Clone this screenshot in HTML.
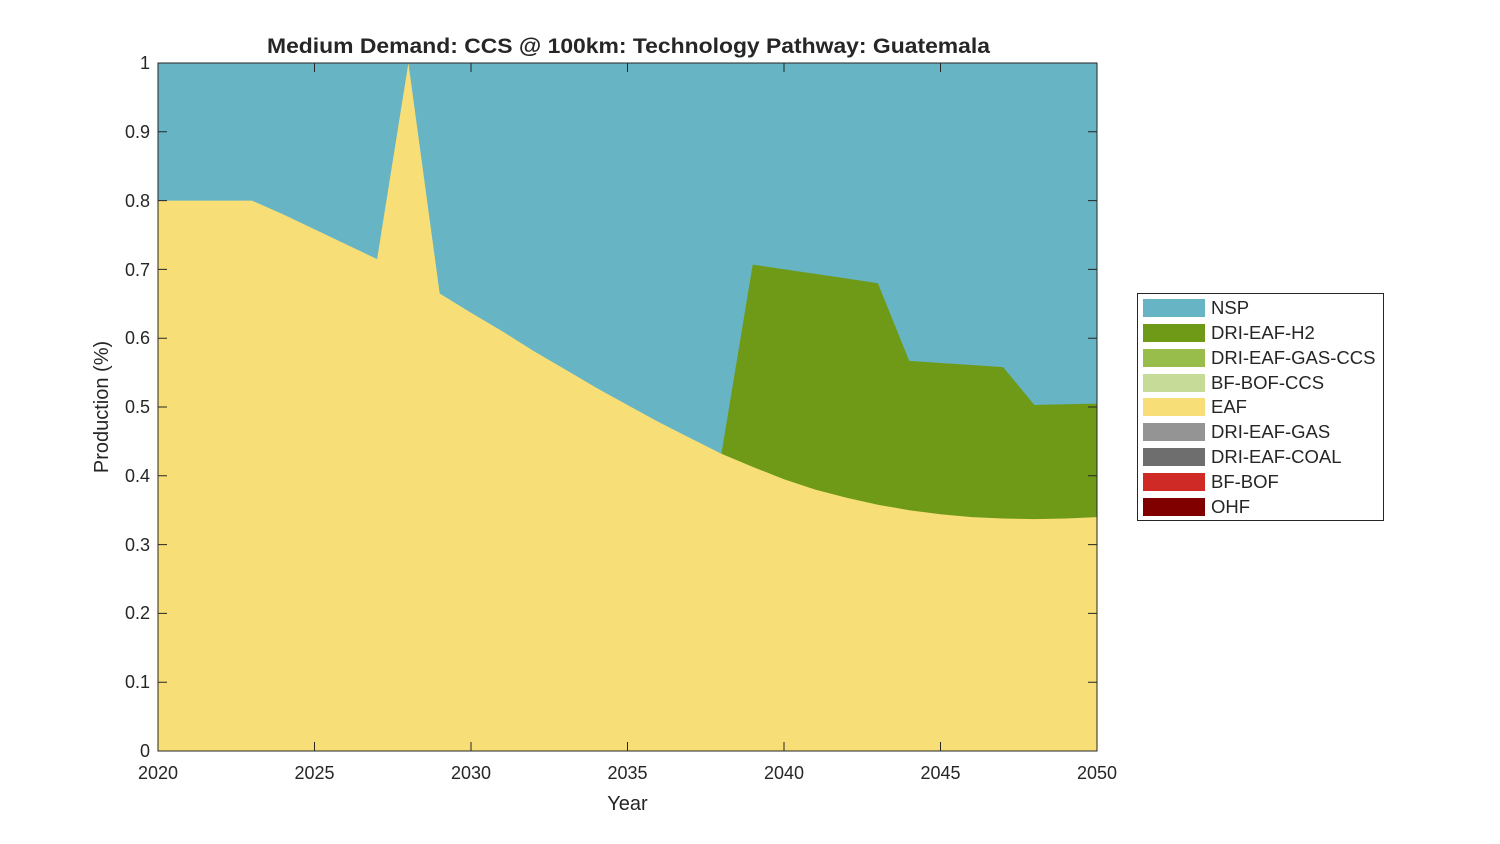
<!DOCTYPE html>
<html><head><meta charset="utf-8"><style>body{margin:0;background:#fff}svg{display:block}text{font-family:"Liberation Sans",sans-serif;fill:#262626}</style></head>
<body>
<svg width="1500" height="844" viewBox="0 0 1500 844">
<rect x="158" y="63" width="939" height="688" fill="#67b4c5"/>
<polygon fill="#6e9a18" points="721.4,453.8 752.7,264.6 784,269.2 815.3,273.9 846.6,278.5 877.9,283.2 909.2,360.9 940.5,363 971.8,365 1003.1,367.1 1034.4,405 1065.7,404.3 1097,403.6 1097,751 721.4,751"/>
<polygon fill="#f7de76" points="158,200.6 251.9,200.6 283.2,214.4 377.1,259.1 408.4,63 439.7,293.5 471,312.7 502.3,331.3 533.6,351 564.9,369.2 596.2,387.7 627.5,405 658.8,422.1 690.1,438 721.4,453.8 752.7,466.9 784,479.2 815.3,489.6 846.6,497.8 877.9,504.7 909.2,510.2 940.5,514.3 971.8,517.1 1003.1,518.5 1034.4,519.1 1065.7,518.5 1097,517.1 1097,751 158,751"/>
<rect x="158" y="63" width="939" height="688" fill="none" stroke="#262626" stroke-width="1"/>
<g stroke="#262626" stroke-width="1">
<path d="M158,751h9M158,682.2h9M158,613.4h9M158,544.6h9M158,475.8h9M158,407h9M158,338.2h9M158,269.4h9M158,200.6h9M158,131.8h9M158,63h9"/>
<path d="M1097,751h-9M1097,682.2h-9M1097,613.4h-9M1097,544.6h-9M1097,475.8h-9M1097,407h-9M1097,338.2h-9M1097,269.4h-9M1097,200.6h-9M1097,131.8h-9M1097,63h-9"/>
<path d="M158,751v-9M314.5,751v-9M471,751v-9M627.5,751v-9M784,751v-9M940.5,751v-9M1097,751v-9"/>
<path d="M158,63v9M314.5,63v9M471,63v9M627.5,63v9M784,63v9M940.5,63v9M1097,63v9"/>
</g>
<g font-size="18" text-anchor="end">
<text x="150" y="757">0</text><text x="150" y="688">0.1</text><text x="150" y="619">0.2</text><text x="150" y="551">0.3</text><text x="150" y="482">0.4</text><text x="150" y="413">0.5</text><text x="150" y="344">0.6</text><text x="150" y="276">0.7</text><text x="150" y="207">0.8</text><text x="150" y="138">0.9</text><text x="150" y="69">1</text>
</g>
<g font-size="18" text-anchor="middle">
<text x="158" y="779">2020</text><text x="314.5" y="779">2025</text><text x="471" y="779">2030</text><text x="627.5" y="779">2035</text><text x="784" y="779">2040</text><text x="940.5" y="779">2045</text><text x="1097" y="779">2050</text>
<text x="627.5" y="810" font-size="20">Year</text>
<text x="267" y="53" text-anchor="start" font-size="21" font-weight="bold" fill="#000" textLength="723" lengthAdjust="spacingAndGlyphs">Medium Demand: CCS @ 100km: Technology Pathway: Guatemala</text>
<text transform="translate(108,407) rotate(-90)" font-size="20">Production (%)</text>
</g>
<rect x="1137.5" y="293.5" width="246" height="227" fill="#fff" stroke="#262626"/>
<g font-size="18.5">
<rect x="1143" y="299" width="62" height="18" fill="#67b4c5"/><text x="1211" y="314">NSP</text>
<rect x="1143" y="324" width="62" height="18" fill="#6e9a18"/><text x="1211" y="339">DRI-EAF-H2</text>
<rect x="1143" y="349" width="62" height="18" fill="#98bd4a"/><text x="1211" y="364">DRI-EAF-GAS-CCS</text>
<rect x="1143" y="374" width="62" height="18" fill="#c6db98"/><text x="1211" y="389">BF-BOF-CCS</text>
<rect x="1143" y="398" width="62" height="18" fill="#f7de76"/><text x="1211" y="413">EAF</text>
<rect x="1143" y="423" width="62" height="18" fill="#949494"/><text x="1211" y="438">DRI-EAF-GAS</text>
<rect x="1143" y="448" width="62" height="18" fill="#6e6e6e"/><text x="1211" y="463">DRI-EAF-COAL</text>
<rect x="1143" y="473" width="62" height="18" fill="#d02a27"/><text x="1211" y="488">BF-BOF</text>
<rect x="1143" y="498" width="62" height="18" fill="#800000"/><text x="1211" y="513">OHF</text>
</g>
</svg>
</body></html>
